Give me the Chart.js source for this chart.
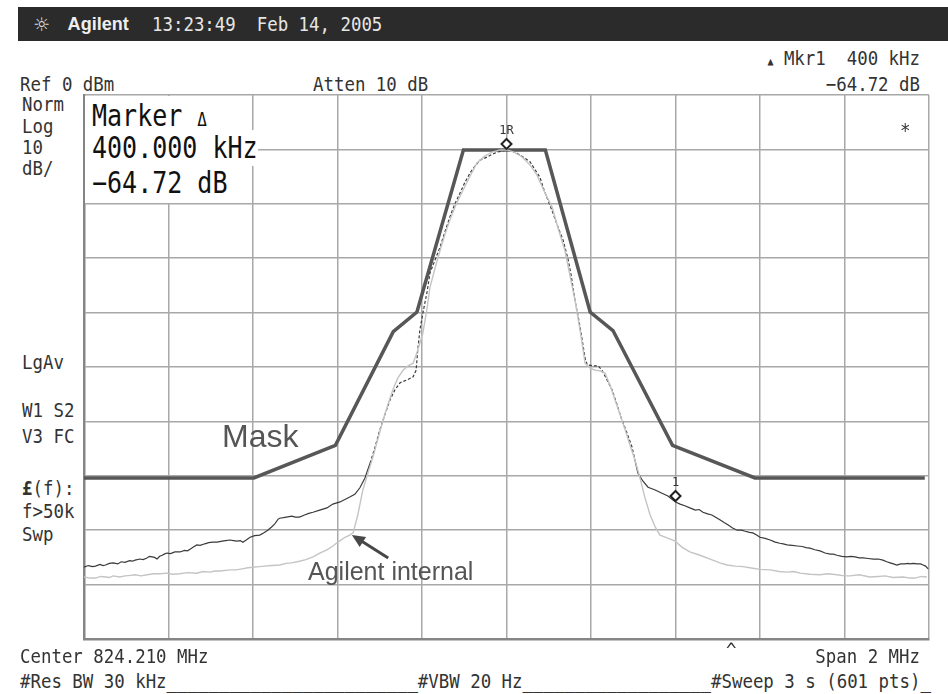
<!DOCTYPE html>
<html lang="en">
<head>
<meta charset="UTF-8">
<title>ACPR mask - 824.210 MHz</title>
<script src="https://cdn.jsdelivr.net/npm/chart.js"></script>
<style>
    body { margin: 0; background: #fff; }
    #screen { position: relative; width: 948px; height: 694px; overflow: hidden; background: #fff; }
    #topbar { position: absolute; left: 18px; top: 7px; width: 930px; height: 34px; background: #2b2b2b; }
    .t { position: absolute; font-family: "DejaVu Sans Mono", monospace; font-size: 17.4px; line-height: 20px;
         color: #333; white-space: pre; transform: scaleY(1.12); }
    .r { text-align: right; }
    .big { position: absolute; font-family: "DejaVu Sans Mono", monospace; font-size: 25px; line-height: 30px;
           color: #111; white-space: pre; background: #fff; transform: scaleY(1.2); }
    .note { position: absolute; font-family: "Liberation Sans", Arial, sans-serif; color: #555; white-space: pre; }
    #plot { position: absolute; left: 74px; top: 85px; }
    #mkrbox { position: absolute; left: 85px; top: 96px; width: 166px; height: 107px; background: #fff; }
</style>
</head>
<body>
<div id="screen">
    <div id="topbar"></div>
    <div class="t" style="left:33px;top:14px;color:#ddd;font-family:'DejaVu Sans';font-size:19px;transform:none">☼</div>
    <div class="t" style="left:66px;top:14px;color:#eee;font-family:'Liberation Sans';font-weight:bold;font-size:19px;transform:scaleX(0.95)">Agilent</div>
    <div class="t" style="left:152px;top:14px;color:#e6e6e6">13:23:49  Feb 14, 2005</div>

    <div class="t r" style="right:28px;top:48px"><span style="font-size:10px">▲</span> Mkr1  400 kHz</div>
    <div class="t" style="left:20px;top:74px">Ref 0 dBm</div>
    <div class="t" style="left:313px;top:74px">Atten 10 dB</div>
    <div class="t r" style="right:28px;top:74px">−64.72 dB</div>

    <div class="t" style="left:22px;top:94px">Norm</div>
    <div class="t" style="left:22px;top:116px">Log</div>
    <div class="t" style="left:22px;top:137px">10</div>
    <div class="t" style="left:22px;top:158px">dB/</div>
    <div class="t" style="left:22px;top:352px">LgAv</div>
    <div class="t" style="left:22px;top:400px">W1 S2</div>
    <div class="t" style="left:22px;top:426px">V3 FC</div>
    <div class="t" style="left:22px;top:478px"><b>£</b>(f):</div>
    <div class="t" style="left:22px;top:501px">f&gt;50k</div>
    <div class="t" style="left:22px;top:524px">Swp</div>

    <canvas id="plot" width="865" height="564"></canvas>

    <div id="mkrbox"></div>
    <div class="big" style="left:92px;top:102px">Marker <span style="font-size:16px">Δ</span></div>
    <div class="big" style="left:92px;top:133px">400.000 kHz</div>
    <div class="big" style="left:92px;top:168px">−64.72 dB</div>
    <div class="t" style="left:900px;top:120px">*</div>

    <div class="note" style="left:222px;top:420px;font-size:32px;line-height:32px">Mask</div>
    <div class="note" style="left:308px;top:559px;font-size:25px;line-height:25px">Agilent internal</div>

    <div class="t" style="left:20px;top:646px">Center 824.210 MHz</div>
    <div class="t" style="left:726px;top:640px">^</div>
    <div class="t r" style="right:28px;top:646px">Span 2 MHz</div>
    <div class="t" style="left:20px;top:671px">#Res BW 30 kHz________________________#VBW 20 Hz__________________#Sweep 3 s (601 pts)_</div>
</div>

<script>
    // markers: 1R at center, 1 at +400 kHz with delta -64.72 dB
    const mkrRefFreq = 0;
    const mkrRefLevel = -10.10;
    const mkrDeltaFreq = 400;
    const mkrDelta = -64.72;

    // spectral mask limit (offset from center in kHz, level in dBm)
    const maskFreq  = [-1000, -598, -405, -268, -212, -102, 92, 198, 252, 393, 588, 990];
    const maskLevel = [-70.4, -70.4, -64.4, -43.5, -39.9, -10.1, -10.1, -39.9, -43.3, -64.4, -70.4, -70.4];

    // measured trace
    const traceFreq = [
        -1000, -990, -980, -973, -962, -955, -949, -940,
        -931, -920, -912, -903, -892, -885, -879, -868,
        -860, -851, -845, -839, -833, -827, -821, -815,
        -810, -804, -795, -785, -773, -762, -755, -749,
        -741, -733, -725, -714, -705, -695, -685, -673,
        -665, -654, -646, -638, -630, -624, -616, -607,
        -596, -584, -575, -565, -556, -549, -541, -537,
        -528, -521, -508, -500, -490, -478, -468, -458,
        -442, -425, -411, -394, -371, -359, -347, -335,
        -323, -311, -300, -288, -276, -264, -252, -236,
        -221, -214, -210, -205, -198, -188, -181, -169,
        -157, -146, -134, -122, -110, -98, -86, -75,
        -63, -46, -34, -22, 0, 13, 25, 39,
        56, 68, 79, 89, 98, 110, 122, 134,
        146, 153, 162, 172, 179, 186, 191, 205,
        217, 226, 238, 250, 262, 273, 285, 297,
        304, 311, 323, 335, 352, 368, 382, 400,
        411, 422, 434, 447, 456, 465, 476, 486,
        495, 505, 515, 524, 535, 546, 556, 565,
        575, 583, 592, 600, 612, 624, 636, 647,
        655, 664, 676, 688, 700, 709, 718, 730,
        742, 754, 766, 774, 782, 794, 806, 815,
        825, 835, 844, 856, 868, 880, 891, 900,
        908, 916, 924, 933, 943, 950, 955, 963,
        972, 980, 986, 992, 998
    ];
    const traceLevel = [
        -86.8, -86.5, -86.7, -86.6, -86.3, -86.5, -86.4, -86.1,
        -86.0, -86.2, -85.8, -85.9, -85.6, -85.7, -85.5, -85.3,
        -85.4, -85.1, -84.8, -84.9, -85.0, -85.3, -84.8, -84.6,
        -84.4, -84.2, -84.3, -84.0, -84.0, -83.7, -83.8, -83.5,
        -83.1, -82.7, -82.8, -82.5, -82.3, -82.2, -82.2, -82.0,
        -81.9, -81.8, -81.9, -82.0, -81.9, -82.2, -81.8, -81.3,
        -81.0, -80.9, -80.5, -80.0, -79.4, -78.9, -78.0, -77.8,
        -77.7, -77.6, -77.4, -77.6, -77.6, -77.2, -76.9, -76.7,
        -76.3, -75.9, -75.2, -74.8, -73.9, -73.4, -72.2, -70.4,
        -67.7, -64.7, -61.6, -58.8, -56.1, -54.2, -52.9, -52.4,
        -51.8, -50.6, -46.9, -43.2, -40.1, -36.2, -32.7, -30.3,
        -27.9, -25.2, -22.4, -20.0, -18.0, -16.0, -14.3, -13.1,
        -12.0, -11.4, -10.9, -10.5, -10.10, -10.3, -10.7, -11.4,
        -12.3, -13.8, -15.1, -17.5, -19.3, -21.7, -24.3, -26.7,
        -30.3, -33.1, -37.7, -41.7, -45.0, -48.4, -49.6, -49.8,
        -49.8, -50.6, -52.4, -54.2, -57.0, -59.7, -62.1, -64.7,
        -67.1, -69.5, -71.0, -72.1, -72.6, -73.2, -73.7, -74.82,
        -75.2, -75.5, -75.9, -76.3, -76.2, -76.7, -77.0, -77.2,
        -77.6, -78.1, -78.6, -79.0, -79.6, -80.0, -80.0, -80.2,
        -80.4, -80.5, -80.9, -81.3, -81.5, -81.8, -82.2, -82.4,
        -82.5, -82.7, -82.8, -82.9, -83.0, -83.2, -83.3, -83.6,
        -83.8, -84.2, -84.4, -84.4, -84.6, -84.8, -84.9, -84.8,
        -84.9, -85.1, -85.1, -85.2, -85.3, -85.3, -85.5, -85.8,
        -86.0, -86.2, -86.4, -86.2, -86.2, -86.1, -86.2, -86.1,
        -86.2, -86.2, -86.4, -86.6, -87.1
    ];

    // Agilent internal reference trace
    const refFreq = [
        -1000, -985, -973, -960, -949, -940, -931, -915,
        -903, -890, -879, -865, -851, -835, -820, -804,
        -790, -773, -755, -733, -718, -702, -690, -678,
        -654, -640, -626, -612, -600, -585, -573, -555,
        -537, -522, -509, -490, -475, -458, -442, -425,
        -411, -399, -382, -371, -363, -352, -340, -328,
        -316, -304, -292, -281, -269, -257, -245, -233,
        -221, -210, -198, -188, -181, -169, -157, -146,
        -134, -120, -103, -86, -70, -51, -34, -15,
        1, 18, 37, 56, 72, 91, 108, 122,
        138, 150, 162, 174, 186, 198, 210, 221,
        233, 245, 257, 269, 281, 292, 304, 316,
        328, 340, 352, 363, 380, 399, 415, 434,
        458, 482, 505, 522, 541, 560, 583, 600,
        624, 645, 664, 680, 695, 718, 742, 760,
        782, 800, 813, 835, 860, 880, 896, 915,
        939, 955, 967, 982, 995
    ];
    const refLevel = [
        -88.6, -88.8, -88.8, -88.5, -88.6, -88.7, -88.4, -88.6,
        -88.4, -88.3, -88.2, -88.4, -88.2, -88.0, -88.0, -87.9,
        -88.1, -88.0, -87.8, -87.9, -87.6, -87.7, -87.5, -87.5,
        -87.3, -87.3, -87.1, -86.9, -86.8, -86.7, -86.6, -86.5,
        -86.4, -86.1, -86.0, -85.7, -85.4, -84.9, -84.2, -83.6,
        -82.9, -82.2, -81.3, -80.9, -80.5, -77.2, -72.6, -69.5,
        -66.5, -63.1, -59.7, -57.0, -54.2, -52.0, -50.6, -49.8,
        -49.3, -46.9, -43.8, -39.2, -35.3, -31.8, -28.5, -25.7,
        -23.0, -20.2, -17.5, -14.9, -12.5, -11.2, -10.5, -10.1,
        -10.1, -10.5, -11.4, -12.9, -14.7, -18.0, -20.6, -24.5,
        -28.5, -33.1, -37.7, -43.2, -49.3, -50.2, -50.6, -50.7,
        -51.1, -53.3, -56.1, -58.8, -61.6, -64.3, -67.1, -70.4,
        -74.1, -77.2, -79.4, -80.9, -81.4, -82.0, -83.1, -84.0,
        -84.6, -85.3, -86.0, -86.4, -86.6, -86.7, -87.0, -87.2,
        -87.3, -87.6, -87.7, -87.6, -87.9, -88.1, -88.2, -88.0,
        -88.2, -88.4, -88.4, -88.2, -88.6, -88.5, -88.4, -88.7,
        -88.6, -88.8, -88.8, -88.5, -88.6
    ];

    // arrow pointing at the internal trace (tail, head)
    const arrowFreq = [-280, -366];
    const arrowLevel = [-85.1, -80.9];

    const pts = (xs, ys) => xs.map((x, i) => ({ x: x, y: ys[i] }));

    const markerPlugin = {
        id: 'markers',
        afterDatasetsDraw(chart) {
            const ctx = chart.ctx;
            const xs = chart.scales.x, ys = chart.scales.y;

            // arrow
            const x0 = xs.getPixelForValue(arrowFreq[0]), y0 = ys.getPixelForValue(arrowLevel[0]);
            const x1 = xs.getPixelForValue(arrowFreq[1]), y1 = ys.getPixelForValue(arrowLevel[1]);
            const a = Math.atan2(y1 - y0, x1 - x0);
            ctx.save();
            ctx.strokeStyle = '#474747';
            ctx.fillStyle = '#474747';
            ctx.lineWidth = 3;
            ctx.beginPath();
            ctx.moveTo(x0, y0);
            ctx.lineTo(x1 - 8 * Math.cos(a), y1 - 8 * Math.sin(a));
            ctx.stroke();
            ctx.beginPath();
            ctx.moveTo(x1, y1);
            ctx.lineTo(x1 - 13 * Math.cos(a) + 6 * Math.sin(a), y1 - 13 * Math.sin(a) - 6 * Math.cos(a));
            ctx.lineTo(x1 - 13 * Math.cos(a) - 6 * Math.sin(a), y1 - 13 * Math.sin(a) + 6 * Math.cos(a));
            ctx.closePath();
            ctx.fill();

            // diamonds sit on top of the trace point
            const diamond = (f, lvl, label) => {
                const px = xs.getPixelForValue(f), py = ys.getPixelForValue(lvl) - 6;
                ctx.beginPath();
                ctx.moveTo(px, py - 5);
                ctx.lineTo(px + 5, py);
                ctx.lineTo(px, py + 5);
                ctx.lineTo(px - 5, py);
                ctx.closePath();
                ctx.fillStyle = '#fff';
                ctx.fill();
                ctx.strokeStyle = '#222';
                ctx.lineWidth = 2;
                ctx.stroke();
                ctx.fillStyle = '#333';
                ctx.font = '12px "DejaVu Sans Mono"';
                ctx.textAlign = 'center';
                ctx.textBaseline = 'bottom';
                ctx.fillText(label, px, py - 7);
            };
            diamond(mkrRefFreq, mkrRefLevel, '1R');
            diamond(mkrDeltaFreq, mkrRefLevel + mkrDelta, '1');
            ctx.restore();
        }
    };

    new Chart(document.getElementById('plot'), {
        type: 'line',
        data: {
            datasets: [
                {
                    label: 'Agilent internal',
                    data: pts(refFreq, refLevel),
                    borderColor: '#c4c4c4',
                    borderWidth: 1.4,
                    pointRadius: 0,
                    tension: 0
                },
                {
                    label: 'Measured',
                    data: pts(traceFreq, traceLevel),
                    borderColor: '#3a3a3a',
                    borderWidth: 1.2,
                    pointRadius: 0,
                    tension: 0,
                    segment: {
                        borderDash: c => (c.p0.parsed.y > -68 && c.p1.parsed.y > -68) ? [3, 2] : undefined
                    }
                },
                {
                    label: 'Mask',
                    data: pts(maskFreq, maskLevel),
                    borderColor: '#575757',
                    borderWidth: 3.5,
                    pointRadius: 0,
                    tension: 0
                }
            ]
        },
        options: {
            responsive: false,
            animation: false,
            layout: { padding: 10 },
            plugins: { legend: { display: false }, tooltip: { enabled: false } },
            scales: {
                x: {
                    type: 'linear', min: -1000, max: 1000,
                    ticks: { display: false, stepSize: 200 },
                    grid: { color: '#a8a8a8', lineWidth: 1.5, drawTicks: false },
                    border: { color: '#858585', width: 2.5 }
                },
                y: {
                    type: 'linear', min: -100, max: 0,
                    ticks: { display: false, stepSize: 10 },
                    grid: { color: '#a8a8a8', lineWidth: 1.5, drawTicks: false },
                    border: { color: '#858585', width: 2.5 }
                }
            }
        },
        plugins: [markerPlugin]
    });
</script>
</body>
</html>
